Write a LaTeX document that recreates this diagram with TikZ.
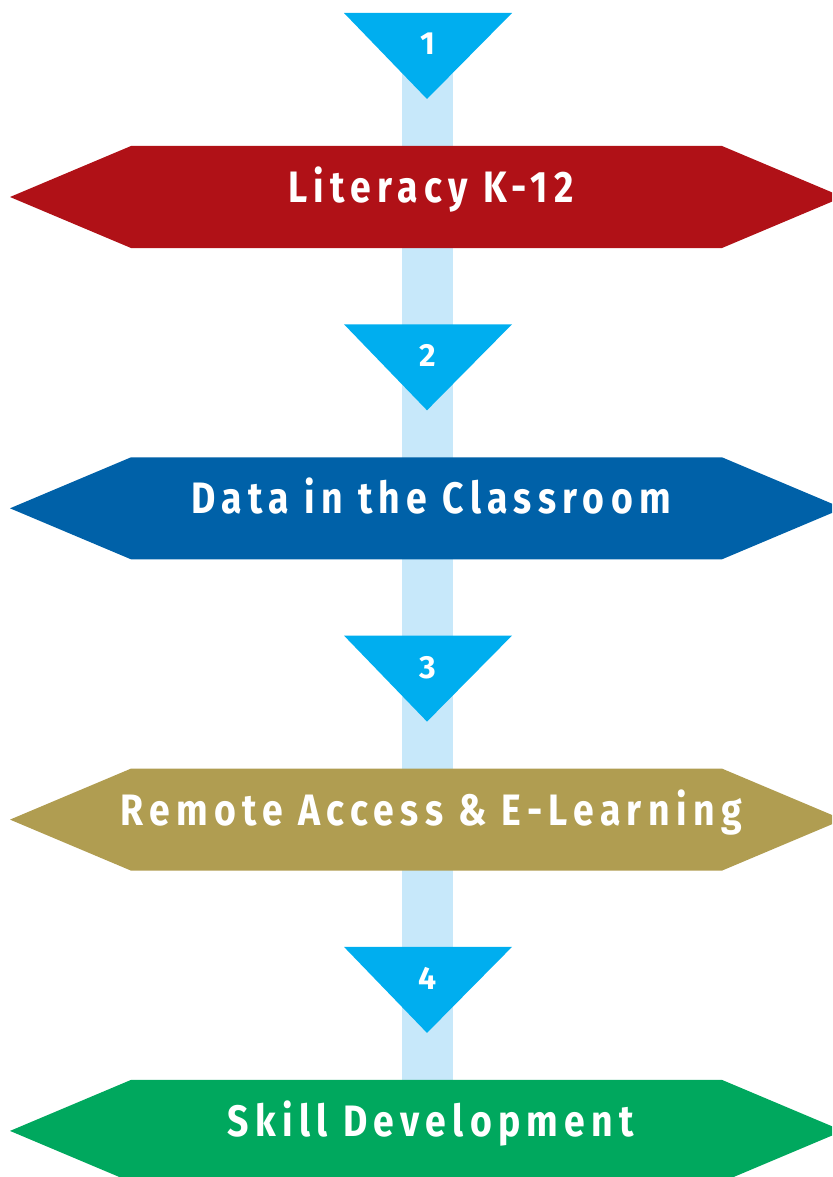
\documentclass[tikz,border=0pt]{standalone}
\usepackage{fontspec}
\newfontfamily\labelfont{Fira Sans}[LetterSpace=17]
\newfontfamily\numfont{Fira Sans}
\definecolor{cred}{HTML}{B01117}
\definecolor{cblue}{HTML}{0061A8}
\definecolor{cgold}{HTML}{B09D51}
\definecolor{cgreen}{HTML}{00A85E}
\definecolor{ccyan}{HTML}{00AEEF}
\definecolor{cbar}{HTML}{C7E8FA}
\begin{document}
\begin{tikzpicture}[x=1pt,y=-1pt,
  hexlabel/.style={text=white,font=\labelfont\bfseries\fontsize{44}{44}\selectfont,anchor=base,inner sep=0pt},
  numlabel/.style={text=white,font=\numfont\bfseries\fontsize{32}{32}\selectfont,anchor=base,inner sep=0pt}]
\useasboundingbox (0,0) rectangle (832,1177);
\begin{scope}
\clip (0,0) rectangle (832,1177);
% bar
\fill[cbar] (402,13) rectangle (453,1100);
% triangles and hexagons
\foreach \i/\c in {0/cred,1/cblue,2/cgold,3/cgreen}{
  \pgfmathsetmacro{\dy}{311.3*\i}
  \fill[ccyan] (344,13+\dy) -- (512,13+\dy) -- (427,99+\dy) -- cycle;
  \fill[\c] (10,197+\dy) -- (131,146+\dy) -- (722,146+\dy) -- (843,197+\dy) -- (722,248+\dy) -- (131,248+\dy) -- cycle;
}
\end{scope}
\node[numlabel] (n1) at (428,55) {1};
\node[numlabel] (n2) at (428,366) {2};
\node[numlabel] (n3) at (428,678) {3};
\node[numlabel] (n4) at (428,989) {4};
\node[hexlabel] (t1) at (431,202) {\scalebox{0.85}[1]{Literacy K-12}};
\node[hexlabel] (t2) at (431,513) {\scalebox{0.85}[1]{Data in the Classroom}};
\node[hexlabel] (t3) at (431,825) {\scalebox{0.85}[1]{Remote Access \& E-Learning}};
\node[hexlabel] (t4) at (431,1136) {\scalebox{0.85}[1]{Skill Development}};
\end{tikzpicture}
\end{document}
